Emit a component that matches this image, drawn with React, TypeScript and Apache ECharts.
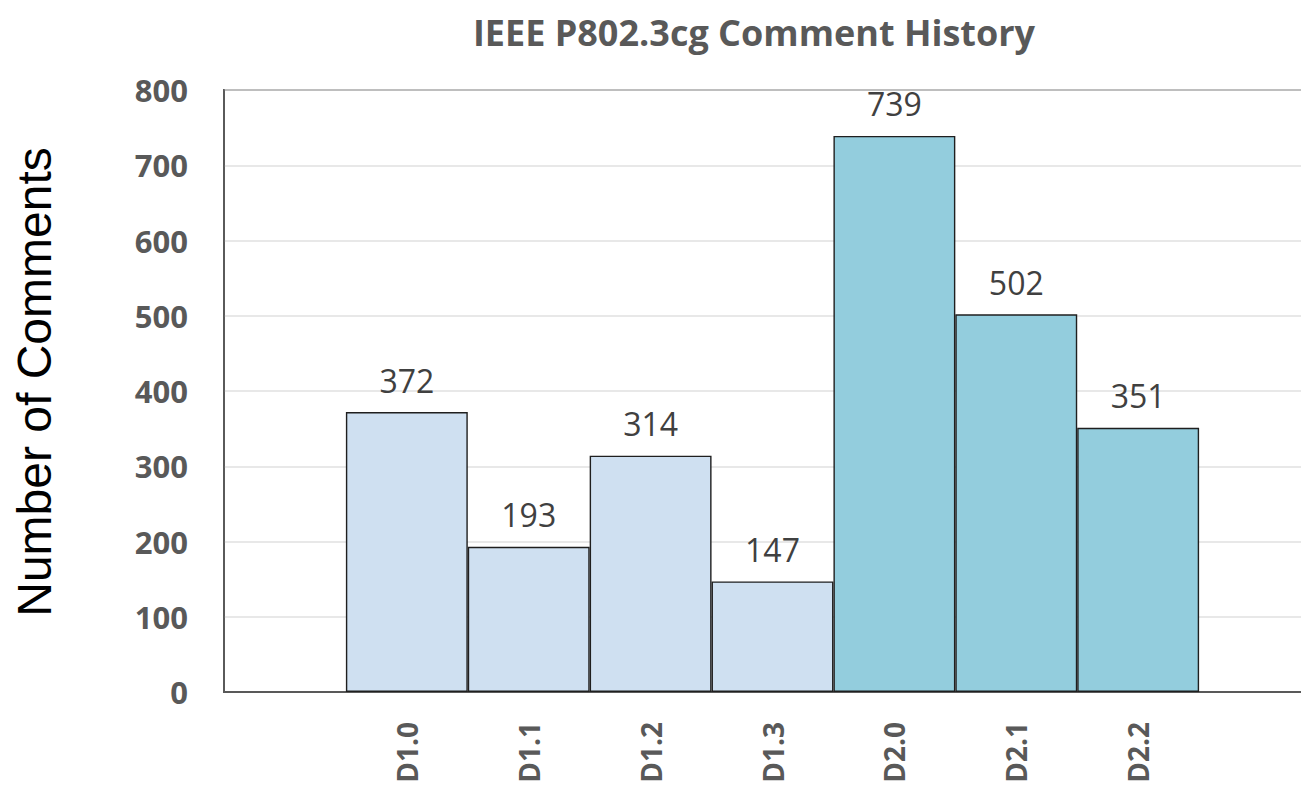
import React, { useEffect, useRef } from "react";
import * as echarts from "echarts";

const categories = ["", "D1.0", "D1.1", "D1.2", "D1.3", "D2.0", "D2.1", "D2.2", ""];
const comments: (number | null)[] = [null, 372, 193, 314, 147, 739, 502, 351, null];
const draftGroup = ["", "D1", "D1", "D1", "D1", "D2", "D2", "D2", ""];
const groupColors: Record<string, string> = { D1: "#cfe0f1", D2: "#93cddd" };
const yTicks = { min: 0, max: 800, interval: 100 };

export default function App() {
  const ref = useRef<HTMLDivElement>(null);
  useEffect(() => {
    document.body.style.margin = "0";
    document.body.style.overflow = "hidden";
    const chart = echarts.init(ref.current!, null, { renderer: "svg" });
    chart.setOption({
      animation: false,
      backgroundColor: "#ffffff",
      title: {
        text: "IEEE P802.3cg Comment History",
        left: 749,
        top: 9,
        textAlign: "center",
        textStyle: { fontFamily: "Open Sans", fontWeight: "bold", fontSize: 36, color: "#595959" },
      },
      graphic: [
        {
          type: "text",
          x: 34,
          y: 382,
          rotation: Math.PI / 2,
          style: {
            text: "Number of Comments",
            fontFamily: "Liberation Sans",
            fontSize: 48,
            fill: "#000000",
            textAlign: "center",
            textVerticalAlign: "middle",
          },
        },
      ],
      grid: {
        left: 224,
        right: 0,
        top: 90,
        bottom: 103,
        show: true,
        borderColor: "#595959",
        borderWidth: 1.8,
      },
      xAxis: {
        type: "category",
        data: categories,
        axisLine: { show: true, lineStyle: { color: "#595959", width: 1.8 } },
        axisTick: { show: false },
        axisLabel: {
          rotate: 90,
          margin: 30,
          fontFamily: "Open Sans",
          fontWeight: "bold",
          fontSize: 28,
          color: "#595959",
          interval: 0,
        },
      },
      yAxis: {
        type: "value",
        min: yTicks.min,
        max: yTicks.max,
        interval: yTicks.interval,
        axisLine: { show: true, lineStyle: { color: "#595959", width: 1.8 } },
        axisTick: { show: false },
        splitLine: { lineStyle: { color: "#e0e0e0", width: 1.5 } },
        axisLabel: {
          margin: 36,
          fontFamily: "Open Sans",
          fontWeight: "bold",
          fontSize: 31,
          color: "#595959",
        },
      },
      series: [
        {
          type: "bar",
          barCategoryGap: "0%",
          data: comments.map((v, i) => ({
            value: v === null ? "-" : v,
            itemStyle: { color: groupColors[draftGroup[i]] || "#ffffff" },
          })),
          itemStyle: { borderColor: "#1f1f1f", borderWidth: 1.4 },
          label: {
            show: true,
            position: "top",
            distance: 16,
            fontFamily: "Open Sans",
            fontSize: 32,
            color: "#404040",
          },
        },
      ],
    });
    return () => chart.dispose();
  }, []);
  return <div ref={ref} style={{ width: 1321, height: 795 }} />;
}
